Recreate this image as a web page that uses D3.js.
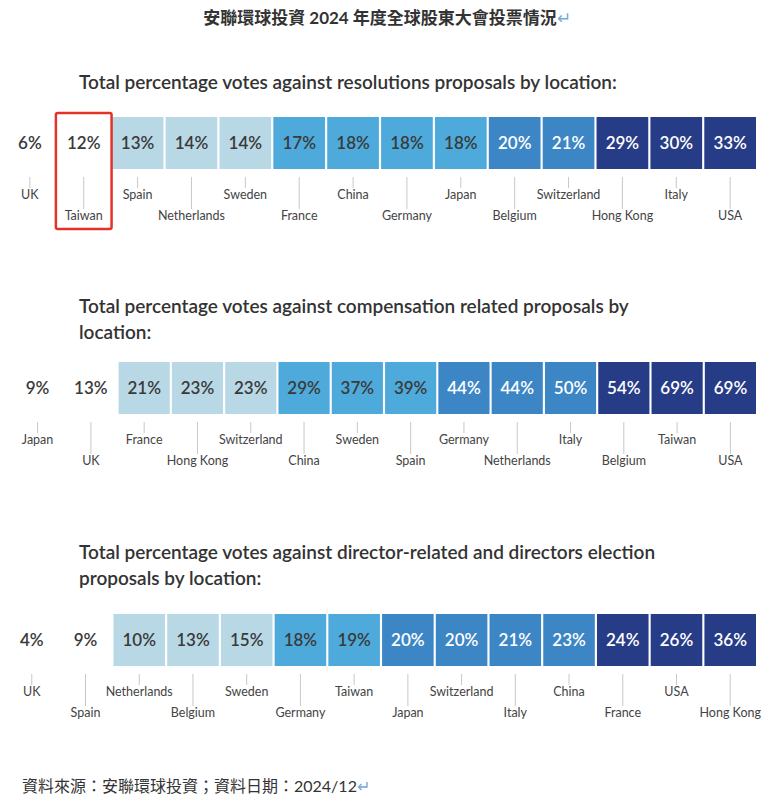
<!DOCTYPE html>
<html>
<head>
<meta charset="utf-8">
<script src="https://cdn.jsdelivr.net/npm/d3@7"></script>
<style>
  body { margin: 0; background: #fff; }
  svg text { font-family: Lato, "Noto Sans CJK TC", sans-serif; }
</style>
</head>
<body>
<svg id="chart"></svg>
<script>
const resolutionCountries = ['UK', 'Taiwan', 'Spain', 'Netherlands', 'Sweden', 'France', 'China', 'Germany', 'Japan', 'Belgium', 'Switzerland', 'Hong Kong', 'Italy', 'USA'];
const resolutionValues = [6, 12, 13, 14, 14, 17, 18, 18, 18, 20, 21, 29, 30, 33];
const resolutionTiers = [0, 0, 1, 1, 1, 2, 2, 2, 2, 3, 3, 4, 4, 4];

const compensationCountries = ['Japan', 'UK', 'France', 'Hong Kong', 'Switzerland', 'China', 'Sweden', 'Spain', 'Germany', 'Netherlands', 'Italy', 'Belgium', 'Taiwan', 'USA'];
const compensationValues = [9, 13, 21, 23, 23, 29, 37, 39, 44, 44, 50, 54, 69, 69];
const compensationTiers = [0, 0, 1, 1, 1, 2, 2, 2, 3, 3, 3, 4, 4, 4];

const directorCountries = ['UK', 'Spain', 'Netherlands', 'Belgium', 'Sweden', 'Germany', 'Taiwan', 'Japan', 'Switzerland', 'Italy', 'China', 'France', 'USA', 'Hong Kong'];
const directorValues = [4, 9, 10, 13, 15, 18, 19, 20, 20, 21, 23, 24, 26, 36];
const directorTiers = [0, 0, 1, 1, 1, 2, 2, 3, 3, 3, 3, 4, 4, 4];

const tierFill = ['#ffffff', '#b9d8e6', '#4eaadb', '#3c86c6', '#273c87'];
const tierText = ['#3a3a3a', '#3a3a3a', '#3a3a3a', '#ffffff', '#ffffff'];

const width = 774, height = 800;
const svg = d3.select('#chart').attr('width', width).attr('height', height);

svg.append('text').attr('x', 387).attr('y', 24).attr('text-anchor', 'middle')
  .attr('font-size', 17).attr('font-weight', 700).attr('fill', '#333')
  .text('安聯環球投資 2024 年度全球股東大會投票情況')
  .append('tspan').attr('fill', '#7aa7d8').attr('font-weight', 400).text('↵');

const panels = [
  { title: ['Total percentage votes against resolutions proposals by location:'], titleY: 89, cellY: 117, range: [4, 756],
    countries: resolutionCountries, values: resolutionValues, tiers: resolutionTiers, box: 'Taiwan' },
  { title: ['Total percentage votes against compensation related proposals by', 'location:'], titleY: 313, cellY: 362, range: [12, 756],
    countries: compensationCountries, values: compensationValues, tiers: compensationTiers },
  { title: ['Total percentage votes against director-related and directors election', 'proposals by location:'], titleY: 559, cellY: 614, range: [6, 756],
    countries: directorCountries, values: directorValues, tiers: directorTiers }
];

const cellH = 52;

panels.forEach(p => {
  const g = svg.append('g');
  p.title.forEach((t, i) => {
    g.append('text').attr('x', 79).attr('y', p.titleY + i * 26)
      .attr('font-size', 19).attr('font-weight', 600).attr('fill', '#333').text(t);
  });

  const x = d3.scaleBand().domain(p.countries).range(p.range).paddingInner(0.04);
  const data = p.countries.map((c, i) => ({ c, i, v: p.values[i], t: p.tiers[i] }));

  g.selectAll('rect.cell').data(data).enter().append('rect')
    .attr('x', d => x(d.c)).attr('y', p.cellY)
    .attr('width', x.bandwidth()).attr('height', cellH)
    .attr('fill', d => tierFill[d.t]);

  g.selectAll('text.val').data(data).enter().append('text')
    .attr('x', d => x(d.c) + x.bandwidth() / 2).attr('y', p.cellY + cellH / 2 + 6)
    .attr('text-anchor', 'middle').attr('font-size', 17).attr('font-weight', 600)
    .attr('fill', d => tierText[d.t]).text(d => d.v + '%');

  const tickTop = p.cellY + cellH + 8;
  g.selectAll('line.tick').data(data).enter().append('line')
    .attr('x1', d => x(d.c) + x.bandwidth() / 2).attr('x2', d => x(d.c) + x.bandwidth() / 2)
    .attr('y1', tickTop).attr('y2', d => tickTop + (d.i % 2 ? 32 : 11))
    .attr('stroke', '#c8c8c8').attr('stroke-width', 1);

  g.selectAll('text.lab').data(data).enter().append('text')
    .attr('x', d => x(d.c) + x.bandwidth() / 2)
    .attr('y', d => tickTop + (d.i % 2 ? 43 : 22))
    .attr('text-anchor', 'middle').attr('font-size', 12.5).attr('fill', '#444')
    .text(d => d.c);

  if (p.box) {
    const bx = x(p.box);
    g.append('rect').attr('x', bx - 2).attr('y', p.cellY - 4)
      .attr('width', x.bandwidth() + 4).attr('height', 116)
      .attr('fill', 'none').attr('stroke', '#e53228').attr('stroke-width', 2.5).attr('rx', 2);
  }
});

svg.append('text').attr('x', 22).attr('y', 792)
  .attr('font-size', 16).attr('fill', '#333')
  .text('資料來源：安聯環球投資；資料日期：2024/12')
  .append('tspan').attr('fill', '#7aa7d8').text('↵');
</script>
</body>
</html>
